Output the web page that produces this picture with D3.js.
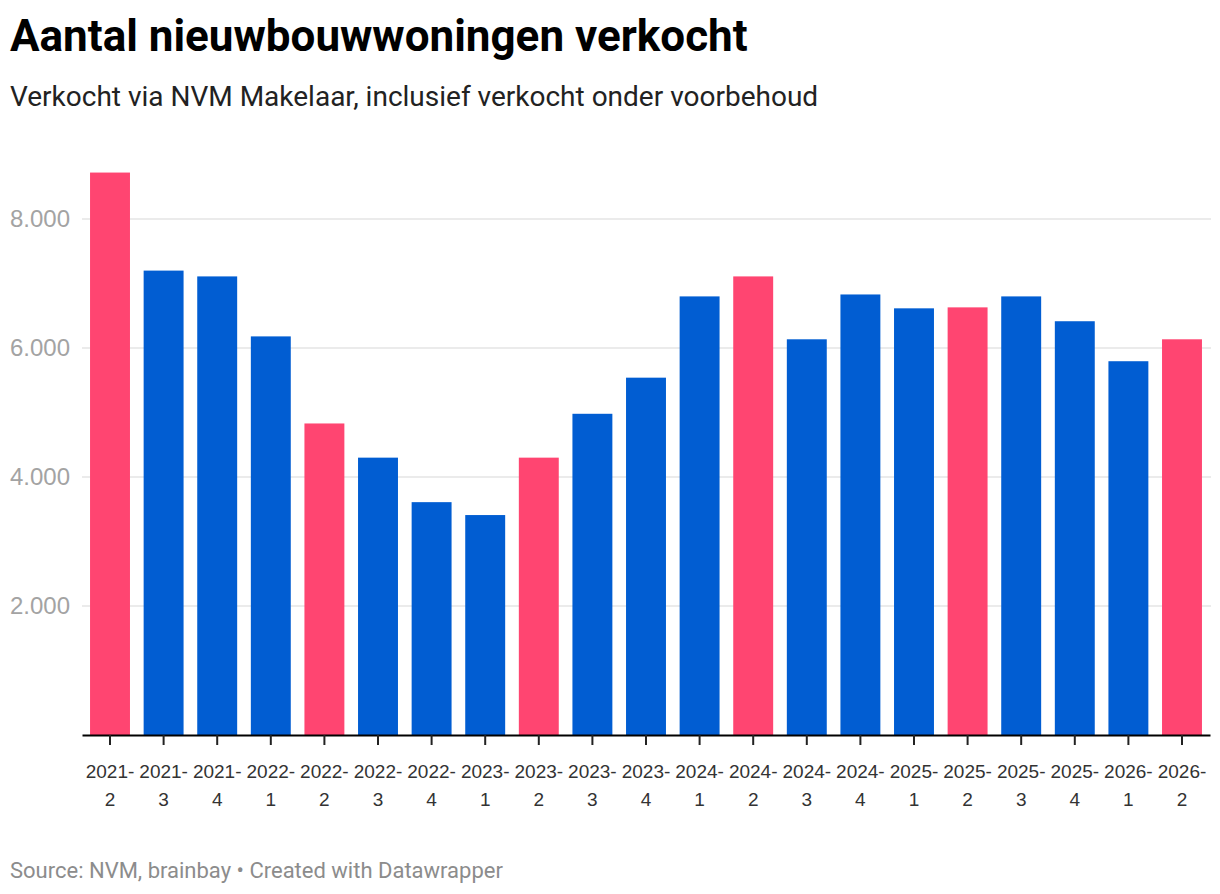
<!DOCTYPE html>
<html>
<head>
<meta charset="utf-8">
<script src="https://cdn.jsdelivr.net/npm/d3@7"></script>
<style>
  body { margin: 0; background: #fff; }
  svg { display: block; font-family: Roboto, "Noto Sans", sans-serif; }
</style>
</head>
<body>
<svg width="1220" height="894"></svg>
<script>
// kwartalen (jaar-kwartaal)
var quarters = ['2021-2','2021-3','2021-4','2022-1','2022-2','2022-3','2022-4','2023-1','2023-2','2023-3','2023-4',
                '2024-1','2024-2','2024-3','2024-4','2025-1','2025-2','2025-3','2025-4','2026-1','2026-2'];
// aantal verkochte nieuwbouwwoningen
var sold = [8720, 7200, 7110, 6180, 4830, 4300, 3610, 3410, 4300, 4980, 5540,
            6800, 7110, 6135, 6830, 6615, 6630, 6800, 6415, 5795, 6135];
var yTicks = [2000, 4000, 6000, 8000];

var width = 1220, height = 894;
var left = 82, right = 1210, bottom = 735;
var pink = '#ff4571', blue = '#015dd2';

var svg = d3.select('svg');
var nl = d3.formatLocale({decimal: ',', thousands: '.', grouping: [3], currency: ['€', '']});
var fmt = nl.format(',');

// titel en ondertitel
svg.append('text').attr('x', 10).attr('y', 51)
  .attr('font-size', 44).attr('font-weight', 700).attr('fill', '#000')
  .text('Aantal nieuwbouwwoningen verkocht');
svg.append('text').attr('x', 10).attr('y', 106)
  .attr('font-size', 28).attr('fill', '#222')
  .text('Verkocht via NVM Makelaar, inclusief verkocht onder voorbehoud');

var x = d3.scaleBand().domain(quarters).range([left, right]).paddingInner(0.255).paddingOuter(0.15);
var y = d3.scaleLinear().domain([0, 8000]).range([bottom, 219]);

// gridlijnen
var grid = svg.append('g');
grid.selectAll('line').data(yTicks).enter().append('line')
  .attr('x1', left).attr('x2', right + 1)
  .attr('y1', d => y(d)).attr('y2', d => y(d))
  .attr('stroke', '#e5e5e5').attr('stroke-width', 1.5);

var yAxis = d3.axisLeft(y).tickValues(yTicks).tickFormat(fmt).tickSize(0);
var yg = svg.append('g').call(yAxis);
yg.select('.domain').remove();
yg.selectAll('text').attr('x', 10).attr('text-anchor', 'start')
  .attr('font-size', 24).attr('fill', '#a3a3a3').attr('font-family', null);

// staven
svg.append('g').selectAll('rect').data(quarters).enter().append('rect')
  .attr('x', d => x(d))
  .attr('y', (d, i) => y(sold[i]))
  .attr('width', x.bandwidth())
  .attr('height', (d, i) => bottom - y(sold[i]))
  .attr('fill', d => d.slice(-1) == '2' ? pink : blue);

// x-as
var xAxis = d3.axisBottom(x).tickSize(10).tickSizeOuter(0);
var xg = svg.append('g').attr('transform', 'translate(0,' + bottom + ')').call(xAxis);
xg.select('.domain').attr('stroke', '#000').attr('stroke-width', 2);
xg.selectAll('.tick line').attr('stroke', '#222').attr('stroke-width', 2);
xg.selectAll('.tick text').each(function(d){
  var t = d3.select(this).text(null).attr('font-size', 19).attr('fill', '#333').attr('font-family', null).attr('y', 0).attr('dy', null);
  var parts = d.split('-');
  t.append('tspan').attr('x', 0).attr('y', 43).text(parts[0] + '-');
  t.append('tspan').attr('x', 0).attr('y', 71).text(parts[1]);
});

// bron
svg.append('text').attr('x', 10).attr('y', 878)
  .attr('font-size', 22).attr('fill', '#8c8c8c')
  .text('Source: NVM, brainbay • Created with Datawrapper');
</script>
</body>
</html>
